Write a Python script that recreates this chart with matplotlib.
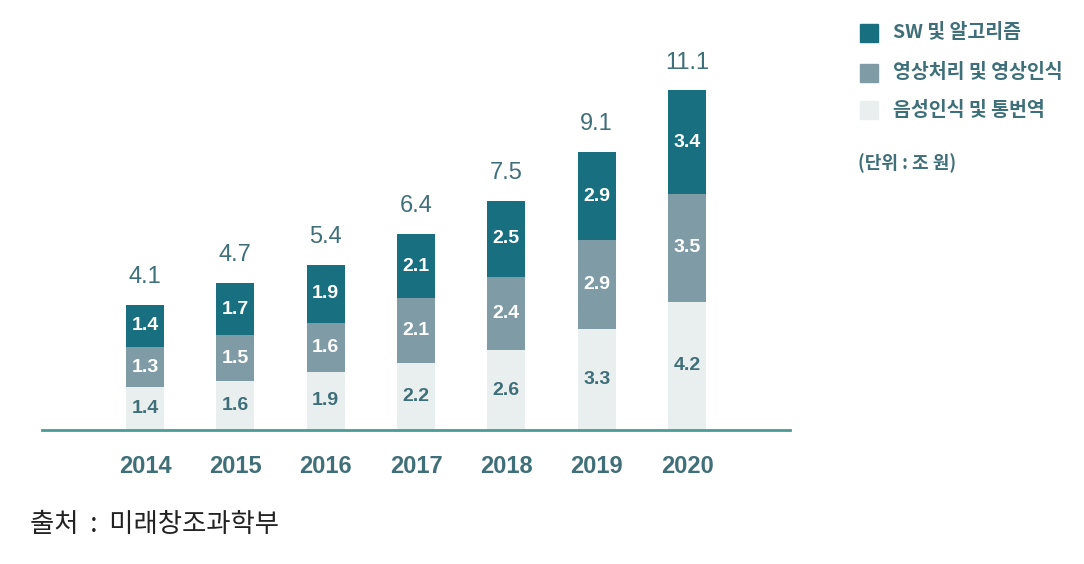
import matplotlib.pyplot as plt
from matplotlib.patches import Rectangle

plt.rcParams['font.family'] = ['Liberation Sans', 'Noto Sans CJK KR', 'DejaVu Sans']

# data (unit: 조 원)
years = ['2014', '2015', '2016', '2017', '2018', '2019', '2020']
speech = [1.4, 1.6, 1.9, 2.2, 2.6, 3.3, 4.2]      # 음성인식 및 통번역
vision = [1.3, 1.5, 1.6, 2.1, 2.4, 2.9, 3.5]      # 영상처리 및 영상인식
sw_algo = [1.4, 1.7, 1.9, 2.1, 2.5, 2.9, 3.4]     # SW 및 알고리즘
totals = [4.1, 4.7, 5.4, 6.4, 7.5, 9.1, 11.1]
series_names = ['SW 및 알고리즘', '영상처리 및 영상인식', '음성인식 및 통번역']

C_DARK = '#176f7f'
C_MID = '#7f9ca6'
C_LIGHT = '#e9eeee'
C_TEXT = '#3f6f78'
C_AXIS = '#4a9a98'

fig = plt.figure(figsize=(10.84, 5.64), dpi=100)
ax = fig.add_axes([42 / 1084, 1 - 430 / 564, 748 / 1084, 390 / 564])

x = range(len(years))
w = 0.42
ax.bar(x, speech, width=w, color=C_LIGHT)
bottom2 = speech
ax.bar(x, vision, width=w, bottom=bottom2, color=C_MID)
bottom3 = [a + b for a, b in zip(speech, vision)]
ax.bar(x, sw_algo, width=w, bottom=bottom3, color=C_DARK)

for i in x:
    ax.text(i, speech[i] / 2, f'{speech[i]:.1f}', ha='center', va='center',
            fontsize=14, fontweight='bold', color=C_TEXT)
    ax.text(i, bottom2[i] + vision[i] / 2, f'{vision[i]:.1f}', ha='center', va='center',
            fontsize=14, fontweight='bold', color='white')
    ax.text(i, bottom3[i] + sw_algo[i] / 2, f'{sw_algo[i]:.1f}', ha='center', va='center',
            fontsize=14, fontweight='bold', color='white')
    top = bottom3[i] + sw_algo[i]
    ax.text(i, top + 0.55, f'{totals[i]:.1f}', ha='center', va='bottom',
            fontsize=17, color=C_TEXT)

ax.set_xlim(-1.14, 7.14)
ax.set_ylim(0, 12.75)
ax.set_xticks(list(x))
ax.set_xticklabels(years, fontsize=17, fontweight='bold', color=C_TEXT)
ax.tick_params(axis='x', length=0, pad=18)
ax.set_yticks([])
for s in ['top', 'right', 'left']:
    ax.spines[s].set_visible(False)
ax.spines['bottom'].set_color(C_AXIS)
ax.spines['bottom'].set_linewidth(2)

# legend drawn manually at the top right
leg_colors = [C_DARK, C_MID, C_LIGHT]
leg_y = [33, 73, 110]
for name, col, yy in zip(series_names, leg_colors, leg_y):
    fig.patches.append(Rectangle((860 / 1084, 1 - (yy + 9) / 564), 18 / 1084, 18 / 564,
                                 transform=fig.transFigure, color=col))
    fig.text(893 / 1084, 1 - yy / 564, name, ha='left', va='center', fontsize=14,
             fontweight='bold', color=C_TEXT, family=['Noto Sans CJK KR', 'DejaVu Sans'])
fig.text(858 / 1084, 1 - 163 / 564, '(단위 : 조 원)', ha='left', va='center', fontsize=13,
         fontweight='bold', color=C_TEXT, family=['Noto Sans CJK KR', 'DejaVu Sans'])

fig.text(30 / 1084, 1 - 525 / 564, '출처  :  미래창조과학부', ha='left', va='center', fontsize=19,
         color='#222222', family=['Noto Sans CJK KR', 'DejaVu Sans'])

fig.savefig('out.png', dpi=100)
